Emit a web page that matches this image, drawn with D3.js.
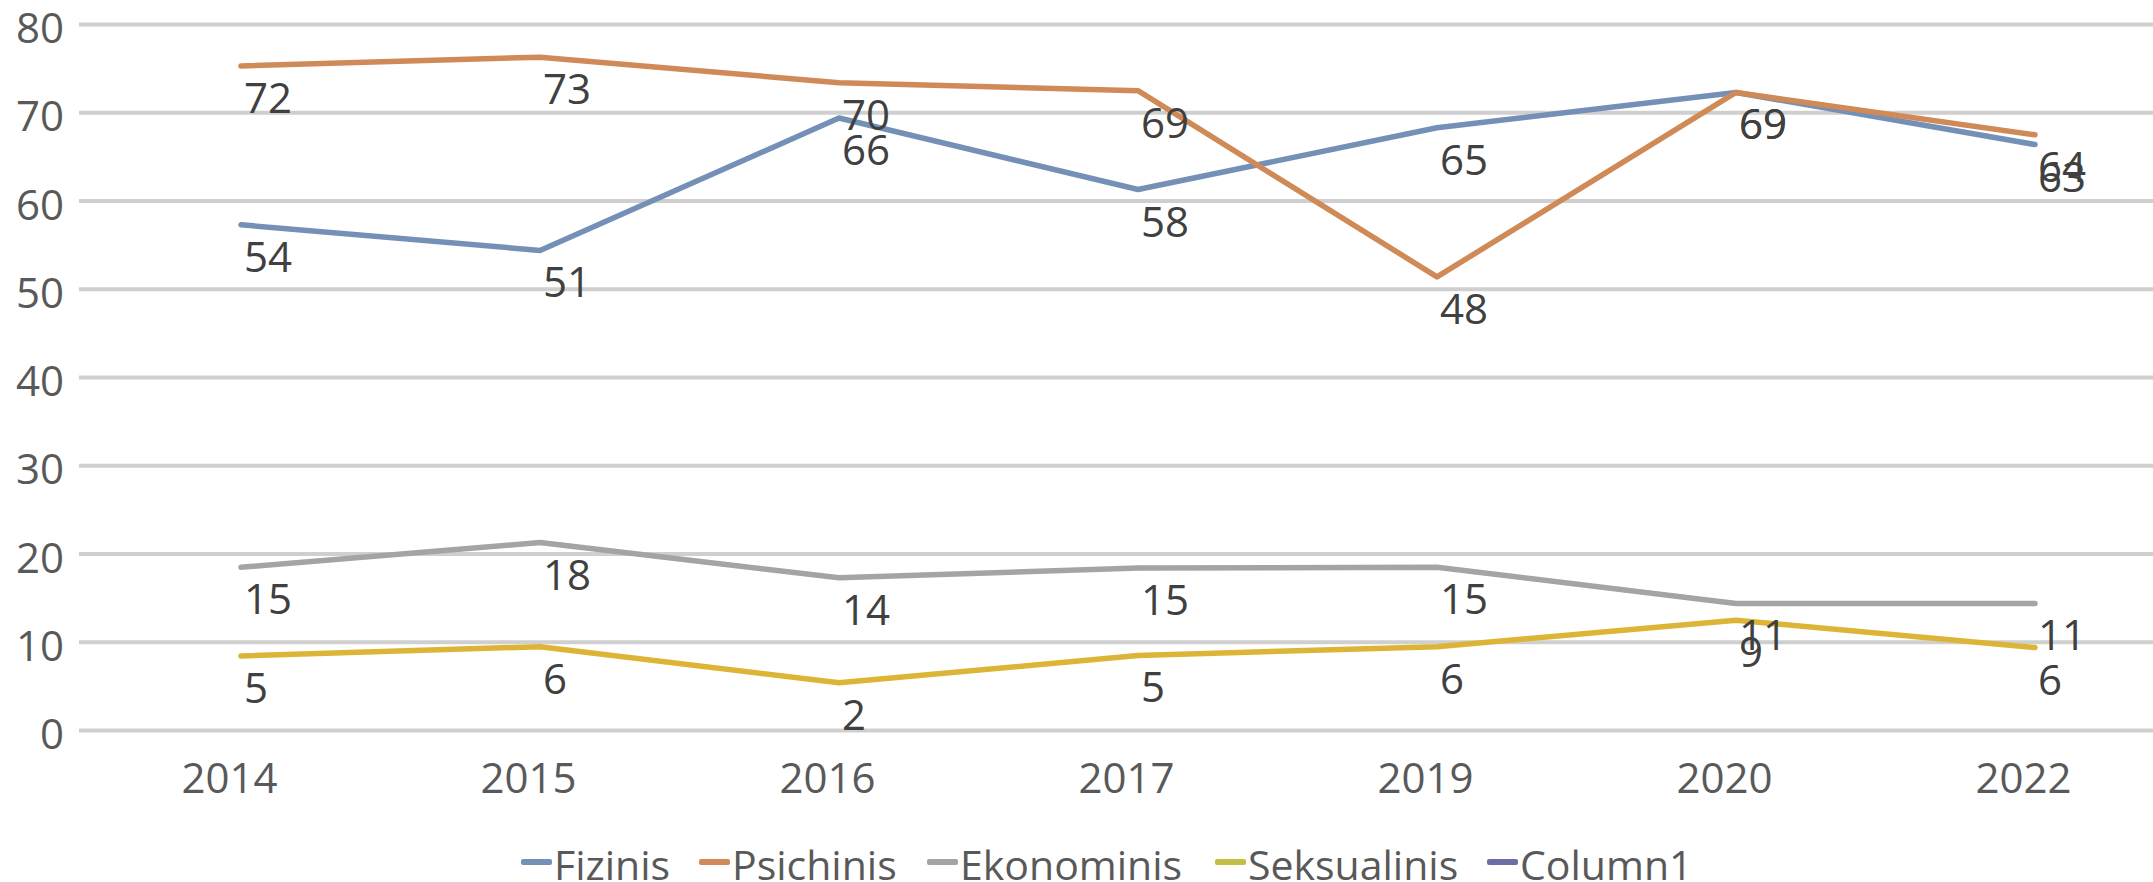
<!DOCTYPE html>
<html>
<head>
<meta charset="utf-8">
<script src="https://cdn.jsdelivr.net/npm/d3@7"></script>
<style>
  html, body { margin: 0; padding: 0; background: #fff; overflow: hidden; }
  svg { display: block; }
  text { font-family: "Open Sans", "Noto Sans", sans-serif; }
</style>
</head>
<body>
<svg id="chart" width="2153" height="882"></svg>
<script>
// ---- data ----
const years = ["2014", "2015", "2016", "2017", "2019", "2020", "2022"];
const seriesNames = ["Fizinis", "Psichinis", "Ekonominis", "Seksualinis", "Column1"];
// plotted line positions (as drawn in the picture)
const fizinis     = [57.3, 54.4, 69.4, 61.3, 68.3, 72.3, 66.4];
const psichinis   = [75.3, 76.3, 73.4, 72.5, 51.4, 72.3, 67.5];
const ekonominis  = [18.5, 21.3, 17.3, 18.4, 18.5, 14.4, 14.4];
const seksualinis = [8.45, 9.5, 5.4, 8.5, 9.5, 12.5, 9.4];
// data label texts shown on the picture
const fizinisLabels     = [54, 51, 66, 58, 65, 69, 63];
const psichinisLabels   = [72, 73, 70, 69, 48, 69, 64];
const ekonominisLabels  = [15, 18, 14, 15, 15, 11, 11];
const seksualinisLabels = [5, 6, 2, 5, 6, 9, 6];
const yTicks = [0, 10, 20, 30, 40, 50, 60, 70, 80];

const colors = {
  Fizinis: "#7490b6",
  Psichinis: "#cf8a57",
  Ekonominis: "#a4a4a4",
  Seksualinis: "#dcb537",
  Column1: "#6b6fa3"
};
const legendColors = {
  Fizinis: "#7490b6",
  Psichinis: "#d08a5c",
  Ekonominis: "#a4a4a4",
  Seksualinis: "#c3bf45",
  Column1: "#6b6fa3"
};

const series = [
  { name: "Fizinis", values: fizinis, labels: fizinisLabels },
  { name: "Psichinis", values: psichinis, labels: psichinisLabels },
  { name: "Ekonominis", values: ekonominis, labels: ekonominisLabels },
  { name: "Seksualinis", values: seksualinis, labels: seksualinisLabels }
];

// ---- layout ----
const svg = d3.select("#chart");
const x = d3.scalePoint().domain(years).range([241, 2035]);
const y = d3.scaleLinear().domain([0, 80]).range([730.5, 24.5]);
const gridLeft = 79, gridRight = 2153;

// gridlines
svg.append("g").selectAll("line").data(yTicks).join("line")
  .attr("x1", gridLeft).attr("x2", gridRight)
  .attr("y1", d => y(d)).attr("y2", d => y(d))
  .attr("stroke", "#cfcfcf").attr("stroke-width", 4);

// y axis labels
const yAxis = d3.axisLeft(y).tickValues(yTicks).tickSize(0).tickPadding(0);
const gy = svg.append("g").attr("transform", "translate(64,0)").call(yAxis);
gy.select(".domain").remove();
gy.selectAll("text")
  .attr("font-family", "Open Sans, Noto Sans, sans-serif")
  .attr("font-size", 42).attr("fill", "#595959")
  .attr("dy", 18).attr("x", 0).attr("text-anchor", "end");

// x axis labels
const xAxis = d3.axisBottom(x).tickSize(0).tickPadding(0);
const gx = svg.append("g").attr("transform", "translate(0,793)").call(xAxis);
gx.select(".domain").remove();
gx.selectAll("text")
  .attr("font-family", "Open Sans, Noto Sans, sans-serif")
  .attr("font-size", 42).attr("fill", "#595959")
  .attr("y", 0).attr("dy", 0).attr("dx", -12).attr("text-anchor", "middle");

// lines
const line = d3.line().x((d, i) => x(years[i])).y(d => y(d));
svg.append("g").selectAll("path").data(series).join("path")
  .attr("d", d => line(d.values))
  .attr("fill", "none")
  .attr("stroke", d => colors[d.name])
  .attr("stroke-width", 5.5)
  .attr("stroke-linejoin", "round")
  .attr("stroke-linecap", "round");

// data labels (below, starting at point)
const lblG = svg.append("g");
series.forEach(s => {
  lblG.selectAll(null).data(s.values).join("text")
    .attr("x", (d, i) => x(years[i]) + 3)
    .attr("y", d => y(d) + 47)
    .attr("font-size", 42)
    .attr("fill", "#404040")
    .attr("text-anchor", "start")
    .text((d, i) => s.labels[i]);
});

// legend
const legendX = [521, 699, 927, 1215, 1487];
const lg = svg.append("g");
seriesNames.forEach((n, i) => {
  lg.append("rect").attr("x", legendX[i]).attr("y", 859).attr("width", 31).attr("height", 6)
    .attr("rx", 2).attr("fill", legendColors[n]);
  lg.append("text").attr("x", legendX[i] + 33).attr("y", 880)
    .attr("font-size", 41).attr("fill", "#595959").text(n);
});
</script>
</body>
</html>
